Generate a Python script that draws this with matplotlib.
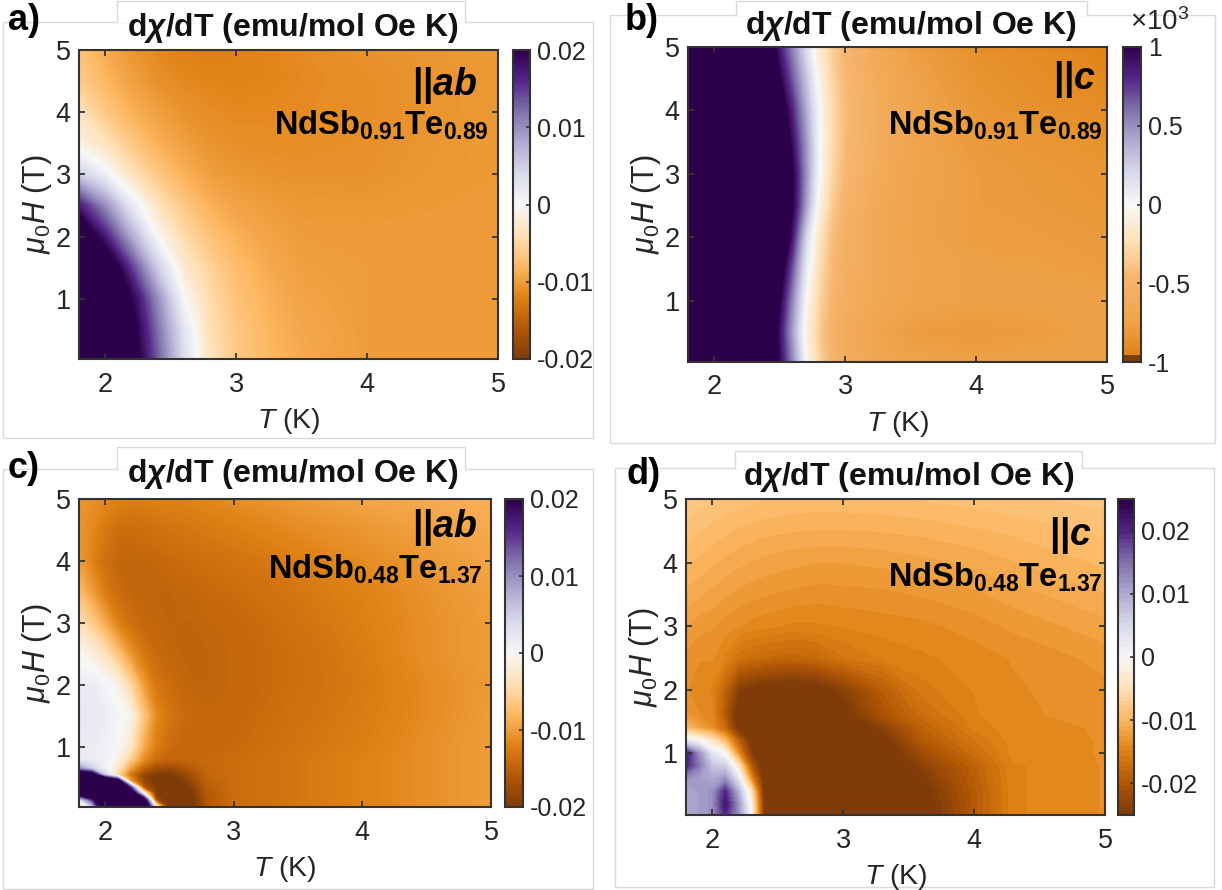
import numpy as np
import matplotlib
matplotlib.use('Agg')
import matplotlib.pyplot as plt
from matplotlib.colors import LinearSegmentedColormap, Normalize
from matplotlib.cm import ScalarMappable
from matplotlib.patches import Rectangle

plt.rcParams['font.family'] = ['Liberation Sans', 'DejaVu Sans']
plt.rcParams['mathtext.fontset'] = 'custom'
plt.rcParams['mathtext.rm'] = 'Liberation Sans'
plt.rcParams['mathtext.it'] = 'Liberation Sans:italic'
plt.rcParams['mathtext.bf'] = 'Liberation Sans:bold'
plt.rcParams['mathtext.bfit'] = 'Liberation Sans:italic:bold'

W, H = 1222, 890

### Data (panels a, c, d in units of 1e-3)
T_ab = [1.8, 2.0, 2.2, 2.4, 2.6, 2.8, 3.0, 3.25, 3.5, 4.0, 4.5, 5.0]
H_ab = [0.03, 0.5, 1, 1.5, 2, 2.5, 3, 3.5, 4, 4.5, 5]
values_a = [
    [43, 33, 23, 13, 3.5, -3.5, -6.5, -8, -9, -10, -10, -10],
    [42, 32, 22, 12, 2.5, -4, -6.5, -8.2, -9.2, -10, -10, -10],
    [40, 30, 20, 10, 0, -4.5, -7, -8.5, -9.5, -10, -10, -10],
    [32, 25, 15, 5, -2.5, -5.5, -7.5, -9, -9.8, -10, -10, -10],
    [26, 17, 8, -0.3, -4.5, -7, -8.5, -9.5, -10, -10, -10, -10],
    [17, 10, 2, -3.5, -6.5, -8.5, -9.5, -10, -10.3, -10.4, -10.2, -10],
    [5, 1, -3.5, -6.5, -8.5, -9.8, -10.4, -10.7, -10.8, -10.8, -10.4, -10.2],
    [-1.5, -3.5, -6.5, -8.5, -9.8, -10.6, -11, -11.1, -11.1, -10.9, -10.5, -10.2],
    [-3.5, -6.5, -8.5, -9.8, -10.7, -11.2, -11.4, -11.4, -11.3, -11, -10.6, -10.3],
    [-6, -8, -9.7, -10.8, -11.4, -11.7, -11.8, -11.7, -11.4, -11, -10.6, -10.3],
    [-7, -9, -10.5, -11.5, -12, -12.3, -12.1, -11.7, -11.3, -10.8, -10.5, -10.2],
]

T_b = [1.8, 2.2, 2.4, 2.5, 2.6, 2.7, 2.8, 2.9, 3.0, 3.25, 3.5, 4.0, 4.5, 5.0]
values_b = [
    [3, 2.4, 1.4, .95, .5, 0, -.3, -.5, -.6, -.7, -.74, -.76, -.76, -.76],
    [3, 2.4, 1.4, .9, .42, -.08, -.35, -.52, -.62, -.72, -.78, -.8, -.78, -.76],
    [3, 2.4, 1.5, 1, .5, 0, -.3, -.48, -.58, -.68, -.73, -.76, -.76, -.76],
    [3, 2.5, 1.6, 1.15, .65, .1, -.25, -.45, -.56, -.67, -.72, -.76, -.77, -.78],
    [3, 2.6, 1.9, 1.4, .85, .22, -.2, -.42, -.55, -.67, -.73, -.78, -.78, -.8],
    [3, 2.7, 2, 1.5, 1, .45, -.07, -.36, -.5, -.66, -.73, -.78, -.8, -.82],
    [3, 2.7, 2, 1.5, 1, .5, 0, -.3, -.46, -.63, -.72, -.78, -.81, -.83],
    [3, 2.6, 1.85, 1.35, .9, .47, .02, -.27, -.44, -.62, -.72, -.8, -.83, -.85],
    [3, 2.5, 1.7, 1.2, .8, .4, 0, -.27, -.43, -.62, -.72, -.82, -.86, -.88],
    [3, 2.4, 1.5, 1, .65, .3, -.06, -.3, -.45, -.63, -.74, -.84, -.88, -.92],
    [3, 2.3, 1.3, .85, .52, .17, -.15, -.35, -.48, -.66, -.77, -.86, -.9, -.94],
]

T_c = [1.8, 1.9, 2.0, 2.1, 2.2, 2.3, 2.4, 2.5, 2.6, 2.7, 2.8, 3.0, 3.25, 3.5, 4.0, 4.5, 5.0]
H_c = [0.03, 0.15, 0.25, 0.35, 0.45, 0.55, 0.65, 0.8, 1, 1.5, 2, 2.5, 3, 3.5, 4, 4.5, 5]
values_c = [
    [-10, 3, 30, 35, 35, 35, 0, -21, -21, -20, -16, -14, -13.5, -13, -12, -11, -10],
    [3, 15, 35, 35, 35, 25, -18, -21, -21, -20, -16, -14, -13.5, -13, -12, -11, -10],
    [25, 35, 35, 35, 30, 0, -20, -21, -21, -19.5, -15.8, -14, -13.5, -13, -12, -11, -10],
    [35, 35, 35, 35, 15, -16, -20, -21, -21, -18.5, -15.5, -14, -13.5, -13, -12, -11, -10],
    [35, 35, 35, 25, -10, -18, -20.5, -21, -20, -17.5, -15, -14, -13.5, -13, -12, -11, -10],
    [30, 25, 5, -5, -13, -18.5, -20, -20, -19, -16.5, -14.5, -14, -13.5, -13, -12, -11, -10],
    [10, 5, 1, -3, -10, -15, -17.5, -18, -17, -15.5, -14.5, -14, -13.5, -13, -12, -11, -10],
    [1.5, 1.5, 1, -1, -6, -11, -14, -14.5, -14.5, -14.5, -14.2, -14, -13.5, -13, -12, -11, -10],
    [1.5, 1.5, 1, 0, -3, -9, -12.5, -14, -14.5, -14.5, -14.5, -14.2, -13.8, -13.2, -12.3, -11, -10],
    [2, 2, 1.5, .5, -1, -6.5, -11.5, -13, -14, -14.3, -14.5, -14.5, -14, -13.5, -12.5, -11.3, -10],
    [1.5, 1.5, .5, -1, -5, -10, -13, -14, -14.5, -14.7, -14.7, -14.5, -14.2, -13.7, -12.7, -11.3, -10.2],
    [-.5, -1.5, -3.5, -7, -10.5, -13, -14.2, -14.6, -14.7, -14.7, -14.7, -14.5, -14.2, -13.7, -12.5, -11, -10],
    [-4, -6, -9, -12, -13.7, -14.4, -14.6, -14.7, -14.7, -14.7, -14.6, -14.4, -14, -13.4, -12.2, -11, -10],
    [-7.5, -10, -12.5, -14, -14.6, -14.7, -14.7, -14.7, -14.6, -14.5, -14.3, -14, -13.5, -13, -12, -10.8, -9.8],
    [-10, -12, -13.7, -14.6, -14.7, -14.6, -14.5, -14.3, -14.1, -13.9, -13.7, -13.3, -12.9, -12.3, -11.3, -10.3, -9.5],
    [-10.5, -11.5, -12.8, -13.8, -14, -13.8, -13.5, -13.3, -13.1, -12.9, -12.7, -12.3, -11.8, -11.3, -10.5, -9.7, -9],
    [-10.5, -11, -11.5, -12, -12.2, -12.2, -12, -12, -12, -11.8, -11.6, -11.2, -10.7, -10.2, -9.5, -9, -8.5],
]

T_d = [1.8, 1.9, 2.0, 2.1, 2.2, 2.3, 2.4, 2.6, 2.8, 3.0, 3.3, 3.6, 4.0, 4.3, 5.0]
H_d = [0.03, 0.2, 0.4, 0.6, 0.8, 1, 1.2, 1.4, 1.6, 2, 2.5, 3, 3.5, 4, 4.5, 5]
values_d = [
    [10, 11, 12, 20, 12, -1, -26, -30, -30, -30, -30, -27, -20, -15, -14],
    [10, 11, 12, 22, 12, -2, -26, -30, -30, -30, -30, -27, -20, -15, -14],
    [10, 11, 12, 20, 9, -5, -27, -30, -30, -30, -30, -26, -20, -15, -14],
    [12, 11, 10, 12, 3, -14, -27, -30, -30, -30, -30, -25, -19.5, -15, -14],
    [20, 14, 7, 6, -4, -20, -28, -30, -30, -30, -28, -24, -19, -15, -14],
    [22, 12, 3, -1, -14, -24, -29, -30, -30, -30, -27, -22, -17.5, -14.5, -14],
    [2, 0, -4, -10, -19, -26, -29, -30, -30, -29, -26, -20, -16.5, -14.5, -14],
    [-10, -12, -14, -18, -26, -28, -30, -30, -30, -28, -24, -19, -15.5, -14.3, -14],
    [-13, -14, -14.5, -20, -27, -28, -29, -29.5, -28, -26, -21, -17.5, -15, -14.2, -13.8],
    [-14, -14.5, -15, -19, -24, -25.5, -26.5, -27, -26.5, -24, -19.5, -16, -14.8, -14.2, -13.5],
    [-13.5, -14, -14, -15, -17, -17.5, -18, -18.5, -18, -16.5, -15.5, -15, -14.5, -14, -13],
    [-12.5, -13, -13.2, -13.7, -14, -14.4, -14.6, -15, -15, -14.8, -14.5, -14.3, -13.7, -13.1, -12],
    [-11.2, -11.6, -12, -12.4, -12.8, -13, -13.2, -13.5, -13.7, -13.6, -13.5, -13.2, -12.7, -12.1, -11],
    [-10, -10.4, -10.8, -11.2, -11.5, -11.8, -12, -12.3, -12.5, -12.5, -12.3, -12, -11.5, -11, -10],
    [-9, -9.3, -9.7, -10, -10.3, -10.5, -10.7, -10.9, -11, -11, -10.9, -10.7, -10.3, -10, -9.2],
    [-8, -8.2, -8.5, -8.8, -9, -9.2, -9.3, -9.5, -9.6, -9.6, -9.5, -9.3, -9, -8.8, -8.3],
]

ticks_ab = [-20, -10, 0, 10, 20]
ticks_b = [-1, -0.5, 0, 0.5, 1]
ticks_d = [-20, -10, 0, 10, 20]
labels_ab = ['-0.02', '-0.01', '0', '0.01', '0.02']
labels_b = ['-1', '-0.5', '0', '0.5', '1']
labels_d = ['-0.02', '-0.01', '0', '0.01', '0.02']

### Colormap of panel b has its orange squeezed, with a short brown foot
cmap_b = LinearSegmentedColormap.from_list('puor_b', [
    (0, '#7f3b08'), (0.02, '#7f3b08'), (0.021, '#e08214'), (0.13, '#efa44b'), (0.27, '#f6b670'),
    (0.38, '#fee0b6'), (0.5, '#f7f7f7'), (0.6, '#d8daeb'), (0.7, '#b2abd2'),
    (0.8, '#8073ac'), (0.9, '#542788'), (1, '#2d004b')], N=256)


def box(x0, y0, x1, y1):
    return [x0 / W, 1 - y1 / H, (x1 - x0) / W, (y1 - y0) / H]


def text_px(x, y, s, **kw):
    fig.text(x / W, 1 - y / H, s, **kw)


def frame(x0, y0, x1, y1, tab0, tab1, tab_top):
    # light gray panel border with the white title tab sticking out on top
    fig.add_artist(Rectangle((x0 / W, 1 - y1 / H), (x1 - x0) / W, (y1 - y0) / H,
                             transform=fig.transFigure, fc='white', ec='#d9d9d9', lw=1, zorder=-5))
    fig.add_artist(Rectangle((tab0 / W, 1 - (y0 + 1) / H), (tab1 - tab0) / W, (y0 + 1 - tab_top) / H,
                             transform=fig.transFigure, fc='white', ec='none', zorder=-4))
    xs = [tab0 / W, tab0 / W, tab1 / W, tab1 / W]
    ys = [1 - y0 / H, 1 - tab_top / H, 1 - tab_top / H, 1 - y0 / H]
    fig.add_artist(plt.Line2D(xs, ys, color='#d9d9d9', lw=1, zorder=-3))


def panel(ax_box, cb_box, T, Hf, Z, vmax, cmap, cticks, clabels, nlev):
    ax = fig.add_axes(box(*ax_box))
    levels = np.linspace(-vmax, vmax, nlev + 1)
    ax.contourf(T, Hf, np.array(Z), levels=levels, cmap=cmap, extend='both', antialiased=False)
    ax.set_xlim(1.8, 5)
    ax.set_ylim(0.03, 5)
    ax.set_xticks([2, 3, 4, 5])
    ax.set_yticks([1, 2, 3, 4, 5])
    ax.tick_params(direction='in', length=4, width=1.3, top=True, right=True, color='#333333',
                   labelsize=19.5, labelcolor='#262626')
    ax.tick_params(axis='x', pad=9)
    ax.tick_params(axis='y', pad=6)
    for s in ax.spines.values():
        s.set_linewidth(1.5)
        s.set_color('#333333')
    ax.set_xlabel('$T$ (K)', fontsize=20.5, color='#262626', labelpad=6)
    ax.set_ylabel(r'$\mu_0H$ (T)', fontsize=22, color='#262626', labelpad=1)

    cax = fig.add_axes(box(*cb_box))
    sm = ScalarMappable(Normalize(-vmax, vmax), plt.get_cmap(cmap).resampled(nlev))
    cb = fig.colorbar(sm, cax=cax)
    cb.set_ticks(cticks)
    cb.set_ticklabels(clabels)
    cax.tick_params(direction='in', length=3, width=1.2, color='#333333', labelsize=18,
                    labelcolor='#262626', pad=5)
    cb.outline.set_linewidth(1.5)
    cb.outline.set_edgecolor('#333333')
    return ax


fig = plt.figure(figsize=(W / 100, H / 100), dpi=100)
fig.patch.set_facecolor('white')

frame(3, 22, 593, 438, 117, 465, 1)
frame(610, 15, 1215, 443, 736, 1087, 1)
frame(3, 469, 593, 889, 117, 465, 447)
frame(615, 468, 1214, 887, 735, 1082, 451)

panel((79, 50, 498, 359), (513, 50, 530, 359), T_ab, H_ab, values_a, 20, 'PuOr', ticks_ab, labels_ab, 256)
panel((688, 47, 1107, 362), (1123, 47, 1141, 362), T_b, H_ab, values_b, 1, cmap_b, ticks_b, labels_b, 256)
panel((79, 499, 491, 807), (505, 499, 523, 807), T_c, H_c, values_c, 20, 'PuOr', ticks_ab, labels_ab, 256)
panel((686, 499, 1105, 815), (1118, 499, 1134, 815), T_d, H_d, values_d, 25, 'PuOr', ticks_d, labels_d, 64)

title = r'd$\mathbfit{\chi}$/dT (emu/mol Oe K)'
for x, y in [(293, 28), (911, 26), (293, 474), (909, 477)]:
    text_px(x, y, title, fontsize=23, fontweight='bold', ha='center', va='center', color='#111111')

for x, y, s in [(8, 20, 'a)'), (625, 20, 'b)'), (8, 468, 'c)'), (627, 474, 'd)')]:
    text_px(x, y, s, fontsize=26, fontweight='bold', ha='left', va='center', color='black')

text_px(1160, 22, r'$\times$10$^3$', fontsize=20, ha='center', va='center', color='#262626')

style = dict(fontweight='bold', ha='right', va='center', color='black')
text_px(478, 85, r'$\mathbf{||}\mathbfit{ab}$', fontsize=27, **style)
text_px(489, 125, r'NdSb$_{\mathbf{0.91}}$Te$_{\mathbf{0.89}}$', fontsize=23.5, **style)
text_px(1096, 79, r'$\mathbf{||}\mathbfit{c}$', fontsize=27, **style)
text_px(1103, 125, r'NdSb$_{\mathbf{0.91}}$Te$_{\mathbf{0.89}}$', fontsize=23.5, **style)
text_px(478, 528, r'$\mathbf{||}\mathbfit{ab}$', fontsize=27, **style)
text_px(483, 569, r'NdSb$_{\mathbf{0.48}}$Te$_{\mathbf{1.37}}$', fontsize=23.5, **style)
text_px(1092, 535, r'$\mathbf{||}\mathbfit{c}$', fontsize=27, **style)
text_px(1103, 577, r'NdSb$_{\mathbf{0.48}}$Te$_{\mathbf{1.37}}$', fontsize=23.5, **style)

fig.savefig('out.png', dpi=100)
